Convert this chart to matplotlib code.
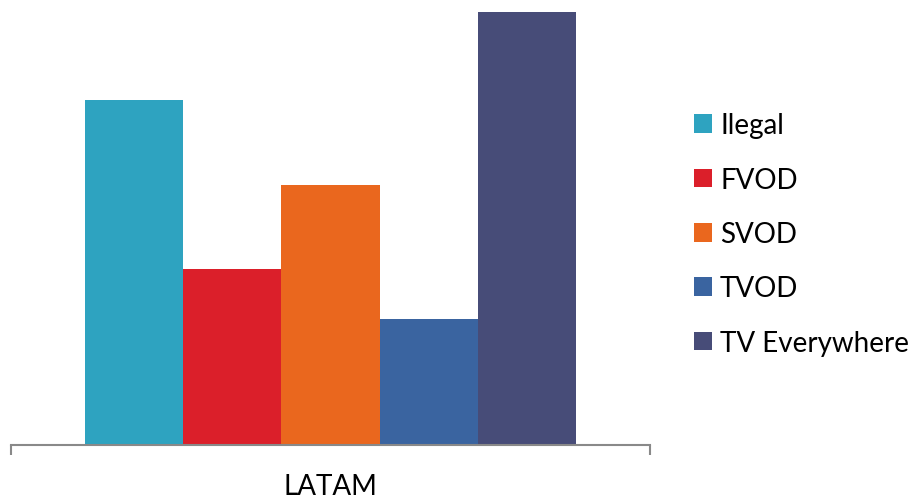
import matplotlib.pyplot as plt

# DATA -----------------------------------------------------------------------
categories = ["LATAM"]
series_names = ["Ilegal", "FVOD", "SVOD", "TVOD", "TV Everywhere"]
series_values = [79.7, 40.6, 60.0, 29.1, 100.0]
series_colors = ["#2EA3C0", "#DB1F2A", "#EA671E", "#3A64A0", "#474C78"]

plt.rcParams['font.family'] = ['Lato', 'DejaVu Sans']

fig = plt.figure(figsize=(9.19, 5.02), dpi=100)
ax = fig.add_axes([11 / 919, 1 - 446 / 502, 639 / 919, 446 / 502])

group_width = 0.768
bar_w = group_width / len(series_names)
for i, (name, val, col) in enumerate(zip(series_names, series_values, series_colors)):
    x = -group_width / 2 + bar_w * (i + 0.5)
    ax.bar(x, val, width=bar_w, color=col, label=name, linewidth=0)

ax.set_xlim(-0.5, 0.5)
ax.set_ylim(0, 103.0)

for s in ['top', 'right', 'left']:
    ax.spines[s].set_visible(False)
ax.spines['bottom'].set_color('#898989')
ax.spines['bottom'].set_linewidth(1.5)
ax.set_yticks([])

ax.set_xticks([0], categories)
ax.set_xticks([-0.5, 0.5], minor=True)
ax.tick_params(axis='x', which='major', length=0, pad=20, labelsize=20)
ax.tick_params(axis='x', which='minor', length=7.5, width=1.5, color='#898989')

fig.legend(loc='center left', bbox_to_anchor=(694 / 919, 1 - 235 / 502),
           frameon=False, fontsize=20, handlelength=0.65, handleheight=0.65,
           handletextpad=0.29, labelspacing=1.02, borderaxespad=0, borderpad=0)

plt.savefig('out.png', dpi=100)
